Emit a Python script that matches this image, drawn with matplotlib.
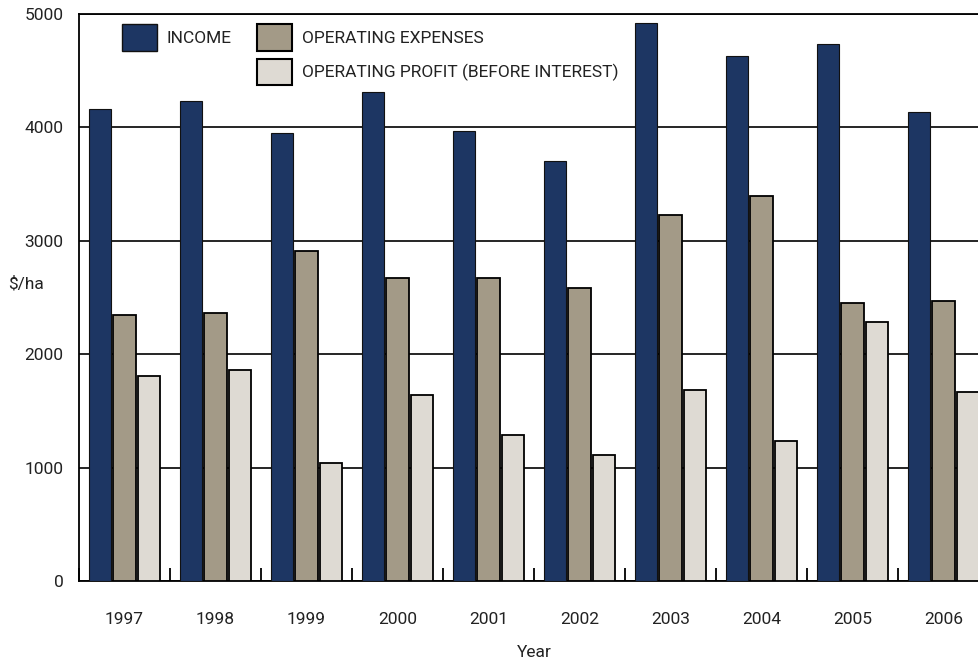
import matplotlib
matplotlib.use('agg')
import matplotlib.pyplot as plt
from matplotlib.patches import Patch
import numpy as np

years = ['1997', '1998', '1999', '2000', '2001', '2002', '2003', '2004', '2005', '2006']
income = [4160, 4230, 3950, 4310, 3965, 3705, 4920, 4630, 4735, 4140]
expenses = [2346, 2367, 2914, 2672, 2672, 2584, 3231, 3395, 2449, 2473]
profit = [1806, 1862, 1040, 1636, 1289, 1110, 1686, 1236, 2282, 1665]

labels = ['INCOME', 'OPERATING EXPENSES', 'OPERATING PROFIT (BEFORE INTEREST)']
colors = ['#1d3663', '#a39a87', '#dedad3']

plt.rcParams['font.family'] = ['Roboto', 'DejaVu Sans']
txt = '#222222'
fs = 12.5

fig = plt.figure(figsize=(9.79, 6.64), dpi=100)
ax = fig.add_axes([79 / 979, 1 - 581 / 664, 910 / 979, 567 / 664])

x = np.arange(len(years))
w = 0.245
off = 0.27
ax.bar(x - off, income, w, color=colors[0], edgecolor='#111111', linewidth=0.8, zorder=3)
ax.bar(x, expenses, w, color=colors[1], edgecolor='black', linewidth=1.3, zorder=3)
ax.bar(x + off, profit, w, color=colors[2], edgecolor='black', linewidth=1.3, zorder=3)

ax.set_xlim(-0.5, len(years) - 0.5)
ax.set_ylim(0, 5000)
ax.set_yticks(range(0, 5001, 1000))
ax.yaxis.grid(True, color='black', linewidth=1.2, zorder=1)

ax.set_xticks(x)
ax.set_xticklabels(years)
ax.set_xticks(np.arange(-0.5, len(years)), minor=True)
ax.tick_params(axis='x', which='major', length=0, pad=22, labelsize=fs, labelcolor=txt)
ax.tick_params(axis='x', which='minor', direction='in', length=9.5, width=1.3)
ax.tick_params(axis='y', length=0, pad=11, labelsize=fs, labelcolor=txt)

for s in ax.spines.values():
    s.set_color('black')
    s.set_linewidth(1.3)

ax.set_xlabel('Year', fontsize=fs, color=txt, labelpad=13.5)
ax.set_ylabel('$/ha', fontsize=fs, color=txt, rotation=0)
ax.yaxis.set_label_coords(-0.058, 0.51)

handles = [Patch(facecolor=colors[0], edgecolor='#111111', linewidth=1),
           Patch(facecolor='none', edgecolor='none'),
           Patch(facecolor=colors[1], edgecolor='black', linewidth=1.5),
           Patch(facecolor=colors[2], edgecolor='black', linewidth=1.5)]
leg = ax.legend(handles, [labels[0], '', labels[1], labels[2]], ncol=2,
                loc='upper left', bbox_to_anchor=(0.03, 1.01), frameon=False,
                fontsize=12.5, handlelength=2.0, handleheight=2.0,
                handletextpad=0.55, columnspacing=1.5, labelspacing=0.45)
for t in leg.get_texts():
    t.set_color(txt)

fig.savefig('out.png', dpi=100)
